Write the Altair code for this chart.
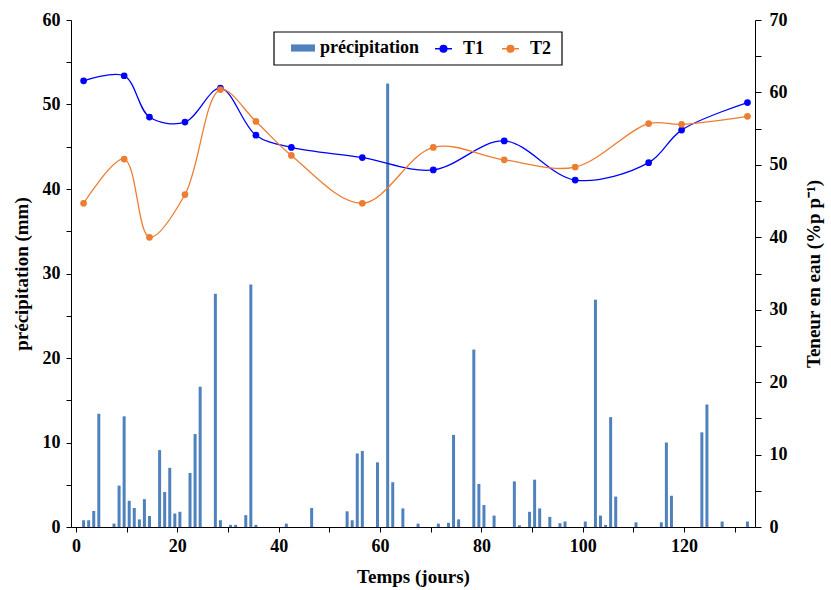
import altair as alt
import pandas as pd

# Daily rainfall over the trial (day, mm)
rain_day = [1.5, 2.5, 3.5, 4.5, 7.5, 8.5, 9.5, 10.5, 11.5, 12.5, 13.5, 14.5,
            16.5, 17.5, 18.5, 19.5, 20.5, 22.5, 23.5, 24.5, 27.5, 28.5, 30.5,
            31.5, 33.5, 34.5, 35.5, 41.5, 46.5, 53.5, 54.5, 55.5, 56.5, 59.5,
            61.5, 62.5, 64.5, 67.5, 71.5, 73.5, 74.5, 75.5, 78.5, 79.5, 80.5,
            82.5, 86.5, 87.5, 89.5, 90.5, 91.5, 93.5, 95.5, 96.5, 100.5, 102.5,
            103.5, 104.5, 105.5, 106.5, 110.5, 115.5, 116.5, 117.5, 123.5,
            124.5, 127.5, 132.5]
rain_mm = [0.8, 0.8, 1.9, 13.4, 0.4, 4.9, 13.1, 3.1, 2.25, 0.9, 3.3, 1.3,
           9.1, 4.15, 7.0, 1.6, 1.8, 6.4, 11.0, 16.6, 27.6, 0.8, 0.25,
           0.25, 1.4, 28.7, 0.25, 0.4, 2.25, 1.85, 0.8, 8.7, 9.0, 7.65,
           52.5, 5.3, 2.2, 0.4, 0.4, 0.5, 10.9, 0.9, 21.0, 5.1, 2.6,
           1.35, 5.4, 0.2, 1.8, 5.6, 2.2, 1.2, 0.45, 0.65, 0.65, 26.9,
           1.35, 0.25, 13.0, 3.6, 0.55, 0.55, 10.0, 3.7, 11.2,
           14.5, 0.65, 0.65]

# Soil water content (% w/w) measured on each sampling day
sample_day = [1.5, 9.5, 14.5, 21.5, 28.5, 35.5, 42.5, 56.5, 70.5, 84.5,
              98.5, 113.0, 119.5, 132.5]
t1 = [61.6, 62.3, 56.6, 55.9, 60.6, 54.1, 52.4, 51.0, 49.3, 53.3,
      47.9, 50.3, 54.8, 58.6]
t2 = [44.7, 50.8, 40.0, 45.9, 60.4, 56.0, 51.3, 44.7, 52.4, 50.7,
      49.7, 55.7, 55.6, 56.7]

series_names = ["précipitation", "T1", "T2"]
series_colors = ["#4f81bd", "#0000ff", "#ed7d31"]

FONT = "Liberation Serif"

rain = pd.DataFrame({"jour": rain_day, "mm": rain_mm, "serie": series_names[0]})
water = pd.DataFrame({
    "jour": sample_day + sample_day,
    "teneur": t1 + t2,
    "serie": [series_names[1]] * len(t1) + [series_names[2]] * len(t2),
})

x_enc = alt.X(
    "jour:Q",
    scale=alt.Scale(domain=[0, 133], nice=False, zero=False),
    axis=alt.Axis(
        title="Temps (jours)",
        values=list(range(0, 131, 10)),
        labelExpr="datum.value % 20 === 0 ? datum.label : ''",
        grid=False, domainColor="black", tickColor="black", tickSize=5,
        labelPadding=5, titlePadding=12,
    ),
)

bars = alt.Chart(rain).mark_bar(size=3).encode(
    x=x_enc,
    y=alt.Y(
        "mm:Q",
        scale=alt.Scale(domain=[0, 60], nice=False),
        axis=alt.Axis(
            orient="left", title="précipitation (mm)",
            values=list(range(0, 61, 5)),
            labelExpr="datum.value % 10 === 0 ? datum.label : ''",
            grid=False, domainColor="black", tickColor="black", tickSize=5,
            labelPadding=6, titlePadding=11,
        ),
    ),
    color=alt.Color(
        "serie:N",
        scale=alt.Scale(domain=series_names[:1], range=series_colors[:1]),
        legend=alt.Legend(
            title=None, orient="none", legendX=220, legendY=16,
            symbolType="M-1,-0.3H1V0.3H-1Z", symbolSize=576,
            symbolStrokeWidth=0, labelOffset=5, padding=0,
        ),
    ),
)

y_right = alt.Y(
    "teneur:Q",
    scale=alt.Scale(domain=[0, 70], nice=False),
    axis=alt.Axis(
        orient="right", title="Teneur en eau (%p p⁻¹)",
        values=list(range(0, 71, 5)),
        labelExpr="datum.value % 10 === 0 ? datum.label : ''",
        grid=False, domainColor="black", tickColor="black", tickSize=6,
        labelPadding=8, titlePadding=36, titleAngle=270,
    ),
)
line_color = alt.Color(
    "serie:N",
    scale=alt.Scale(domain=series_names[1:], range=series_colors[1:]),
    legend=alt.Legend(
        title=None, orient="none", direction="horizontal",
        legendX=363, legendY=19,
        symbolType="M-1,0H1M-0.4,0A0.4,0.4,0,1,0,0.4,0A0.4,0.4,0,1,0,-0.4,0Z",
        symbolSize=289, symbolStrokeWidth=1.3, labelOffset=10,
        columnPadding=14, padding=0,
    ),
)

lines = alt.Chart(water).mark_line(interpolate="catmull-rom", strokeWidth=1.3).encode(
    x=x_enc, y=y_right, color=line_color
)
points = alt.Chart(water).mark_circle(size=45, opacity=1).encode(
    x=x_enc, y=y_right, color=line_color
)

legend_box = alt.Chart(pd.DataFrame({"k": [0]})).mark_rect(
    fill="white", stroke="black", strokeWidth=1.2
).encode(
    x=alt.value(203), x2=alt.value(491), y=alt.value(12), y2=alt.value(45)
)

chart = alt.layer(
    legend_box, bars, alt.layer(lines, points)
).resolve_scale(
    y="independent", color="independent"
).properties(
    width=684, height=507,
    autosize=alt.AutoSizeParams(type="none"),
    padding={"left": 71, "top": 20, "right": 76, "bottom": 63},
).configure_view(
    stroke=None
).configure_axis(
    labelFont=FONT, titleFont=FONT, labelFontSize=18, titleFontSize=19,
    labelFontWeight="bold", titleFontWeight="bold",
    labelColor="black", titleColor="black",
).configure_legend(
    labelFont=FONT, labelFontSize=18, labelFontWeight="bold", labelColor="black",
)

chart.save("out.html", embed_options={"renderer": "svg", "actions": False})
